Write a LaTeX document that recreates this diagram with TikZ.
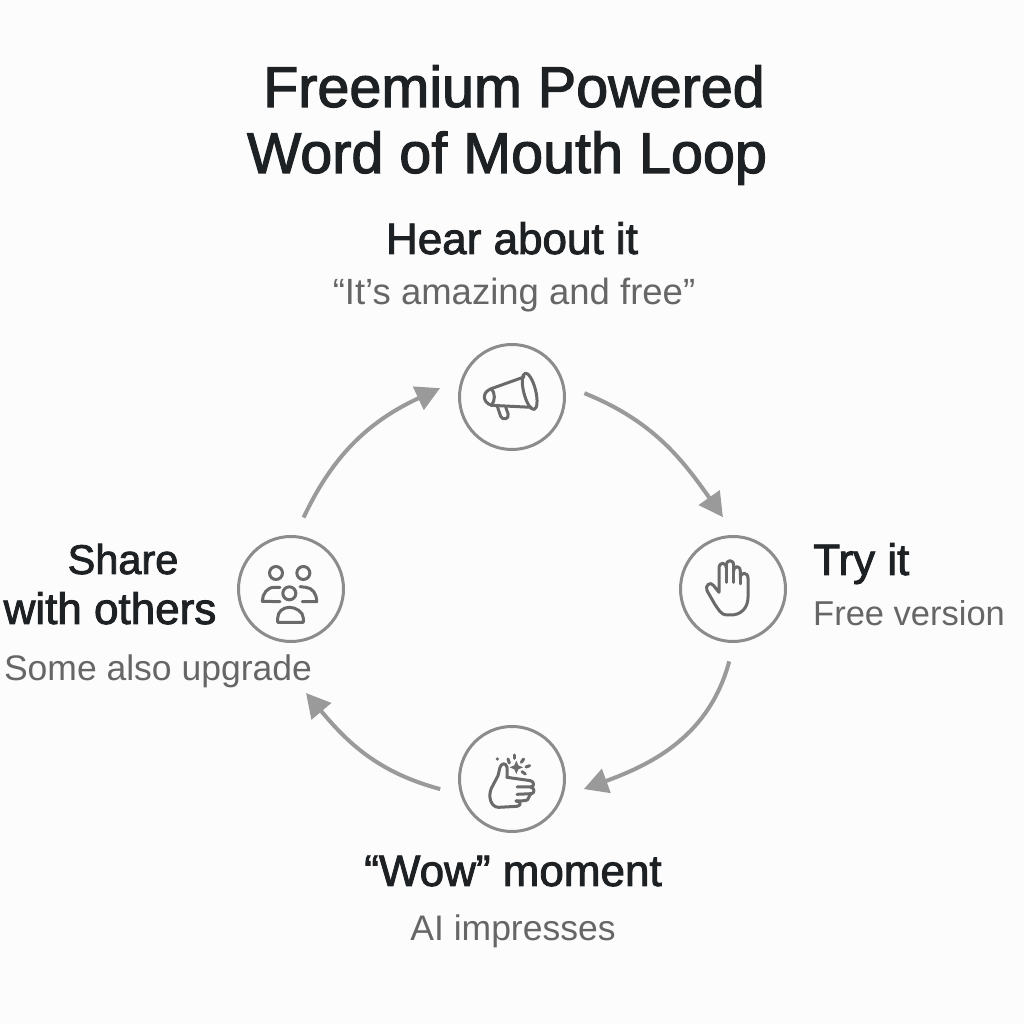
\documentclass[tikz,border=0pt]{standalone}
\usepackage{fontspec}
\setmainfont{Liberation Sans}
\newfontfamily\medfont[FakeBold=2]{Liberation Sans}
\usetikzlibrary{arrows.meta}
\definecolor{bgcol}{HTML}{FCFCFC}
\definecolor{inkcol}{HTML}{1E2124}
\definecolor{subcol}{HTML}{666666}
\definecolor{ringcol}{HTML}{8C8C8C}
\definecolor{iconcol}{HTML}{6A6A6A}
\definecolor{flowcol}{HTML}{9A9A9A}
\tikzset{
	titletext/.style={font=\medfont\fontsize{57.5}{60}\selectfont,text=inkcol,inner sep=0pt,anchor=base},
	headtext/.style={font=\medfont\fontsize{44}{46}\selectfont,text=inkcol,inner sep=0pt,anchor=base},
	subtext/.style={font=\fontsize{35.5}{42}\selectfont,text=subcol,inner sep=0pt,anchor=base},
	ring/.style={circle,draw=ringcol,line width=3pt,minimum size=105pt,inner sep=0pt,outer sep=20pt},
	flow/.style={draw=flowcol,line width=4pt,-{Triangle[length=24pt,width=25pt]}},
	icon/.style={draw=iconcol,line width=3pt,line cap=round,line join=round,x=0.3333pt,y=-0.3333pt},
}
\begin{document}
\begin{tikzpicture}[x=1pt,y=1pt]
	\fill[bgcol] (0,0) rectangle (1024,1024);
	\useasboundingbox (0,0) rectangle (1024,1024);
	% title
	\node[titletext](title1) at (514,917){Freemium Powered};
	\node[titletext](title2) at (507,851){Word of Mouth Loop};
	% the four steps
	\node[ring](hear) at (512,627){};
	\node[ring](try) at (733,435){};
	\node[ring](wow) at (512,245){};
	\node[ring](share) at (291,435){};
	\coordinate (sharein) at (306,331);
	% labels
	\node[headtext](hearhead) at (512,770){Hear about it};
	\node[subtext,font=\fontsize{36.5}{42}\selectfont](hearsub) at (514,719){“It’s amazing and free”};
	\node[headtext,anchor=base west](tryhead) at (813,449){Try it};
	\node[subtext,anchor=base west,font=\fontsize{34.5}{42}\selectfont](trysub) at (813,398){Free version};
	\node[headtext](wowhead) at (513,138){“Wow” moment};
	\node[subtext](wowsub) at (513,83){AI impresses};
	\node[headtext,font=\medfont\fontsize{41.5}{46}\selectfont](sharehead1) at (123,450){Share};
	\node[headtext](sharehead2) at (110,400){with others};
	\node[subtext](sharesub) at (158,343){Some also upgrade};
	% arrows
	\draw[flow](hear.3) to[out=-22,in=125] (try.98);
	\draw[flow](try.267) to[out=-105,in=20] (wow.-8);
	\draw[flow](wow.188) to[out=165,in=-50] (sharein);
	\draw[flow](share.80) to[out=65,in=-155] (hear.173);
	% megaphone
	\begin{scope}[shift={(hear.center)}]
		\draw[icon](53,-17) ellipse[x radius=18,y radius=56,rotate=14];
		\draw[icon](36,-60)--(-62,-25) .. controls (-90,-15) and (-90,15) .. (-62,25)--(58,31);
		\draw[icon](-62,-25) .. controls (-50,-12) and (-50,12) .. (-62,25);
		\draw[icon](-44,28)--(-34,58) .. controls (-28,72) and (-6,66) .. (-12,50)--(-19,30);
	\end{scope}
	% hand
	\begin{scope}[shift={(try.center)}]
		\draw[icon](-42,10)--(-42,-62) .. controls (-42,-82) and (-20,-82) .. (-20,-62)
			-- (-20,-70) .. controls (-20,-90) and (2,-90) .. (2,-70)
			-- (2,-52) .. controls (2,-72) and (22,-72) .. (22,-52)
			-- (22,-32) .. controls (22,-52) and (45,-52) .. (45,-32)
			-- (45,25) .. controls (45,60) and (20,78) .. (-5,78)
			-- (-20,78) .. controls (-35,78) and (-45,60) .. (-55,45)
			-- (-78,5) .. controls (-85,-10) and (-68,-25) .. (-58,-10) -- cycle;
		\draw[icon](-20,-62)--(-20,-20);
		\draw[icon](2,-70)--(2,-20);
		\draw[icon](22,-52)--(22,-15);
	\end{scope}
	% fist and spark
	\begin{scope}[shift={(wow.center)}]
		\draw[icon](-15,-5)--(-15,-35) .. controls (-18,-50) and (-32,-48) .. (-36,-35)
			-- (-42,-10) -- (-62,28) .. controls (-72,50) and (-65,85) .. (-40,85)
			-- (15,82) .. controls (28,80) and (28,66) .. (12,66);
		\draw[icon](-15,-5)--(55,5) .. controls (68,8) and (68,24) .. (55,24)--(15,24);
		\draw[icon](55,24) .. controls (70,26) and (68,44) .. (58,44)--(15,46);
		\draw[icon](58,44) .. controls (50,46) and (52,65) .. (40,65)--(12,66);
		\fill[iconcol,x=0.3333pt,y=-0.3333pt](13,-55)--(19,-41)--(33,-35)--(19,-29)--(13,-15)--(7,-29)--(-7,-35)--(7,-41)--cycle;
		\fill[iconcol,x=0.3333pt,y=-0.3333pt](-44,-60) circle[radius=1.8pt];
		\draw[icon](-12,-60)--(-8,-48);
		\draw[icon](8,-72)--(8,-62);
		\draw[icon](35,-60)--(28,-50);
		\draw[icon](53,-40)--(42,-36);
		\draw[icon](40,-15)--(30,-22);
	\end{scope}
	% people
	\begin{scope}[shift={(share.center)}]
		\draw[icon](-45,-48) circle[radius=6.5pt];
		\draw[icon](37,-48) circle[radius=6.5pt];
		\draw[icon](-5,13) circle[radius=6.5pt];
		\draw[icon](-33,-5)--(-50,-5) .. controls (-72,-5) and (-86,15) .. (-86,37)--(-33,38);
		\draw[icon](27,-7)--(45,-5) .. controls (65,-3) and (77,15) .. (77,38)--(34,38);
		\draw[icon](-40,100)--(-40,88) .. controls (-40,68) and (-24,55) .. (-5,55) .. controls (14,55) and (37,68) .. (37,88)--(37,100)--cycle;
	\end{scope}
\end{tikzpicture}
\end{document}
